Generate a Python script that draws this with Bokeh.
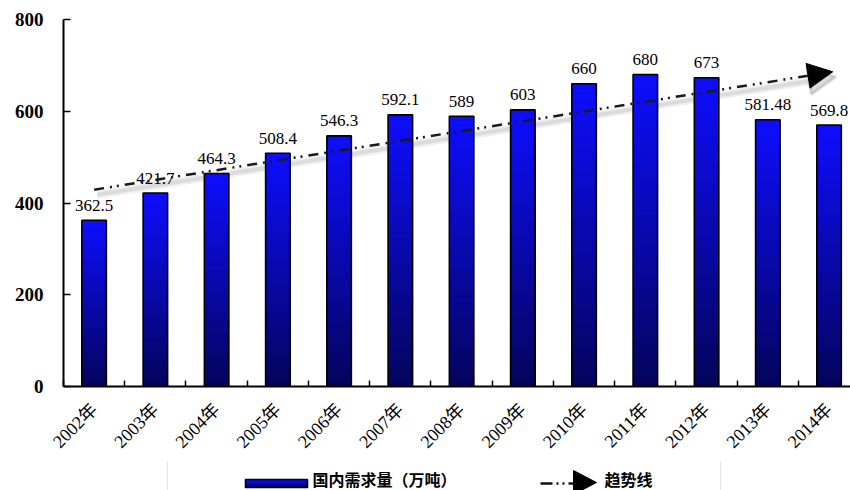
import numpy as np
from bokeh.plotting import figure
from bokeh.models import Range1d, FixedTicker, ColumnDataSource, Arrow, NormalHead
from bokeh.layouts import column
from bokeh.embed import file_html
from bokeh.resources import INLINE
from bokeh.core.properties import value

# ---- data -------------------------------------------------------------
years = ["2002年", "2003年", "2004年", "2005年", "2006年", "2007年", "2008年",
         "2009年", "2010年", "2011年", "2012年", "2013年", "2014年"]
demand = [362.5, 421.7, 464.3, 508.4, 546.3, 592.1, 589, 603, 660, 680, 673,
          581.48, 569.8]
demand_labels = ["362.5", "421.7", "464.3", "508.4", "546.3", "592.1", "589",
                 "603", "660", "680", "673", "581.48", "569.8"]
y_ticks = [0, 200, 400, 600, 800]
# trend arrow: start / end points (category index, value)
trend_x = [0.0, 12.06]
trend_y = [429, 686]
legend_labels = ["国内需求量（万吨）", "趋势线"]

SERIF = "Liberation Serif, Noto Sans CJK SC"
CJK = "Noto Sans CJK SC"

idx = np.arange(len(demand), dtype=float)
vals = np.array(demand, dtype=float)
BAR_W = 0.4


def blue_ramp(t):
    """t = 0 at the bottom of a bar, 1 at its top."""
    b = int(round(92 + (255 - 92) * t))
    r = int(round(4 + 10 * t))
    return "#%02x%02x%02x" % (r, r, b)


# ---- main chart -------------------------------------------------------
p = figure(width=850, height=461, output_backend="svg", toolbar_location=None,
           x_range=Range1d(-0.5, 12.35), y_range=Range1d(0, 800),
           min_border_left=63, min_border_right=0, min_border_top=19,
           min_border_bottom=74, background_fill_color="white",
           border_fill_color="white")
p.outline_line_color = None
p.grid.visible = False

# soft drop shadow under the trend arrow (offset a few pixels down-right)
sh_dx, sh_dy = 0.05, -11
shadow_src = ColumnDataSource(dict(x0=[trend_x[0] + sh_dx], y0=[trend_y[0] + sh_dy],
                                   x1=[trend_x[1] + sh_dx], y1=[trend_y[1] + sh_dy]))
for w, a in ((8, 0.10), (4, 0.16)):
    p.add_layout(Arrow(x_start="x0", y_start="y0", x_end="x1", y_end="y1",
                       source=shadow_src, line_color="#707070", line_alpha=a,
                       line_width=w, level="underlay",
                       end=NormalHead(size=27, fill_color="#707070",
                                      fill_alpha=a, line_color="#707070",
                                      line_alpha=a, line_width=w / 2)))

# vertical gradient: stacked rectangles from the bar base, the tallest (brightest)
# drawn first so each shorter, darker one covers the lower part without seams
N = 60
xs, tops, colors = [], [], []
for k in range(N - 1, -1, -1):
    f1 = (k + 1) / N
    c = blue_ramp((k + 0.5) / N)
    xs.extend(idx)
    tops.extend(vals * f1)
    colors.extend([c] * len(vals))
slices = ColumnDataSource(dict(x=xs, top=tops, color=colors))
p.vbar(x="x", bottom=0, top="top", width=BAR_W, source=slices,
       fill_color="color", line_color=None)
p.vbar(x=idx, top=vals, width=BAR_W, fill_color=None, line_color="black",
       line_width=1.6)

p.text(x=idx, y=vals, text=demand_labels, text_align="center",
       text_baseline="alphabetic", y_offset=-15, text_font=value(SERIF),
       text_font_size="17px", text_color="black")

# dash-dot-dot trend arrow
arrow_src = ColumnDataSource(dict(x0=[trend_x[0]], y0=[trend_y[0]],
                                  x1=[trend_x[1]], y1=[trend_y[1]]))
p.add_layout(Arrow(x_start="x0", y_start="y0", x_end="x1", y_end="y1",
                   source=arrow_src, line_color="#1a1a1a", line_width=2.5,
                   line_dash="10 6 2 5 2 6",
                   end=NormalHead(size=25, fill_color="black",
                                  line_color="black")))

# axes
xa = p.xaxis[0]
xa.ticker = FixedTicker(ticks=list(idx),
                        minor_ticks=list(np.arange(-0.5, 13.0, 1.0)))
xa.major_label_overrides = {int(i): years[int(i)] for i in idx}
xa.major_label_orientation = np.pi / 4
xa.major_label_text_font = SERIF
xa.major_label_text_font_size = "18px"
xa.major_label_text_color = "black"
xa.major_label_standoff = 20
xa.major_tick_in = 0
xa.major_tick_out = 0
xa.minor_tick_in = 6
xa.minor_tick_out = 0
xa.minor_tick_line_color = "black"
xa.minor_tick_line_width = 1.5
xa.axis_line_color = "black"
xa.axis_line_width = 2

ya = p.yaxis[0]
ya.ticker = FixedTicker(ticks=y_ticks)
ya.minor_tick_line_color = None
ya.major_label_text_font = "Liberation Serif"
ya.major_label_text_font_style = "bold"
ya.major_label_text_font_size = "19px"
ya.major_label_text_color = "black"
ya.major_label_standoff = 20
ya.major_tick_in = 7
ya.major_tick_out = 0
ya.major_tick_line_color = "black"
ya.major_tick_line_width = 1.5
ya.axis_line_color = "black"
ya.axis_line_width = 2

# ---- legend strip (x / y in page pixels, y measured up from the bottom) --
leg = figure(width=850, height=29, output_backend="svg", toolbar_location=None,
             x_range=Range1d(63, 850), y_range=Range1d(0, 29),
             x_axis_type=None, y_axis_type=None, min_border=0,
             min_border_left=63, background_fill_color="white",
             border_fill_color="white")
leg.outline_line_color = None
leg.grid.visible = False

leg.quad(left=[167], right=[720], bottom=[-10], top=[33], fill_color=None,
         line_color="#e4e4e4", line_width=1)

M = 8
sw_t = [3 + 8 * (k + 1) / M for k in range(M - 1, -1, -1)]
sw_c = [blue_ramp((k + 0.5) / M) for k in range(M - 1, -1, -1)]
leg.quad(left=[245] * M, right=[307] * M, bottom=[3] * M, top=sw_t,
         fill_color=sw_c, line_color=None)
leg.quad(left=[245], right=[307], bottom=[3], top=[11], fill_color=None,
         line_color="black", line_width=1.6)
leg.text(x=[312], y=[12], text=[legend_labels[0]], text_baseline="middle",
         text_font=value(CJK), text_font_style="bold", text_font_size="16px",
         text_color="black")

leg.line(x=[540, 574], y=[7, 7], line_color="#111111", line_width=2.5,
         line_dash="12 4 2 4 2 4")
leg.patch(x=[573, 573, 596], y=[20, -4, 8], fill_color="black",
          line_color="black")
leg.text(x=[604], y=[12], text=[legend_labels[1]], text_baseline="middle",
         text_font=value(CJK), text_font_style="bold", text_font_size="16px",
         text_color="black")

layout = column(p, leg, spacing=0)
open("out.html", "w").write(file_html(layout, INLINE))
